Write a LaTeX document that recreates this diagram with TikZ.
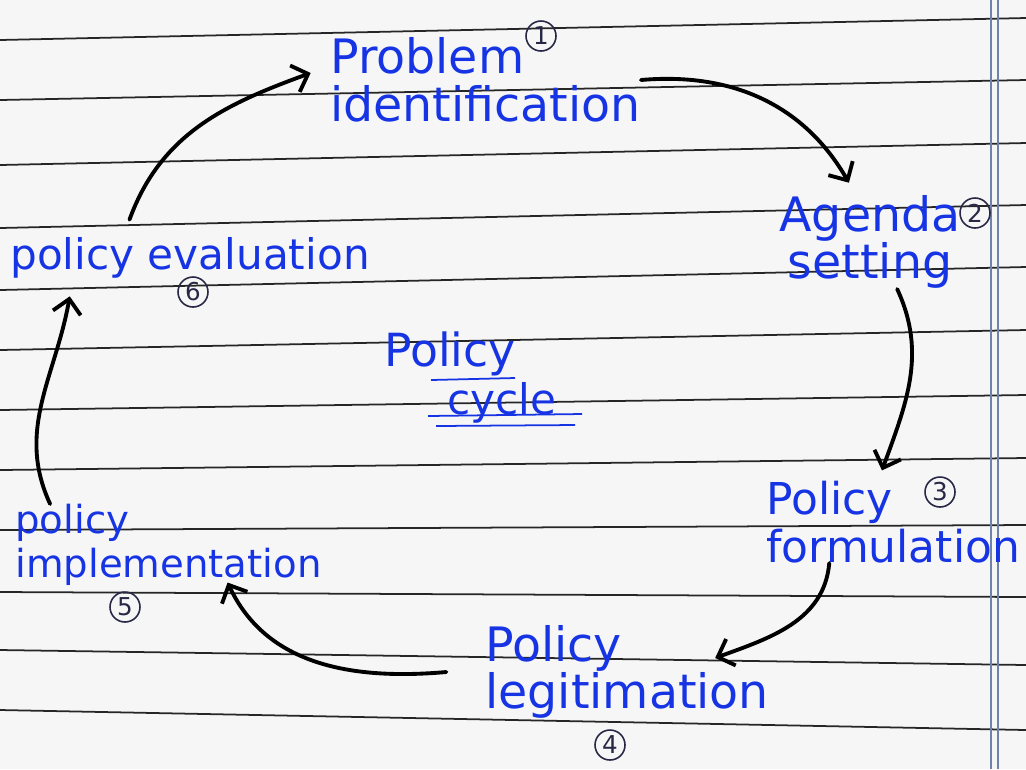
\documentclass[tikz,border=0pt]{standalone}
\usepackage{fontspec}
\setsansfont{DejaVu Sans}
\usetikzlibrary{arrows.meta}
\definecolor{ink}{RGB}{22,52,228}
\definecolor{pencil}{RGB}{40,40,70}
\definecolor{paper}{RGB}{246,246,246}
\definecolor{margin}{RGB}{110,130,170}

\begin{document}
\begin{tikzpicture}[x=0.02cm,y=-0.02cm]
				\tikzstyle{every node}+=[inner sep=0pt]
				\tikzstyle{stage}=[text=ink,font=\sffamily\fontsize{27}{27}\selectfont,align=left]
				\tikzstyle{num}=[draw=pencil,text=pencil,circle,line width=0.9pt,minimum size=0.6cm,font=\sffamily\fontsize{14}{14}\selectfont]
				\tikzstyle{rule}=[black!85,line width=1pt]
				\tikzstyle{flow}=[black,line width=2.2pt,line cap=round,-{Straight Barb[length=8pt,width=16pt,line width=2.2pt]}]
				\useasboundingbox (0,0) rectangle (1026,769);
				\fill [paper] (0,0) rectangle (1026,769);
				% ruled lines of the page
				\foreach \l/\r in {40/18,100/80,165/143,228/205,290/267,350/330,410/395,470/458,530/525,592/597,650/665,710/730}
					\draw [rule] (0,\l) -- (1026,\r);
				\draw [margin,line width=0.8pt] (991,0) -- (991,769);
				\draw [margin,line width=0.8pt] (998,0) -- (998,769);
				% stages
				\node [stage,anchor=west] (prob) at (330,80) {Problem\\identification};
				\node [stage,align=center] (agenda) at (870,242) {Agenda\\setting};
				\node [stage,anchor=west,font=\sffamily\fontsize{25}{27}\selectfont] (form) at (766,522) {Policy\\formulation};
				\node [stage,anchor=west] (legit) at (485,672) {Policy\\legitimation};
				\node [stage,anchor=west,font=\sffamily\fontsize{22}{25}\selectfont] (impl) at (15,545) {policy\\implementation};
				\node [stage,anchor=west,font=\sffamily\fontsize{24}{24}\selectfont] (eval) at (10,258) {policy evaluation};
				% numbers
				\node [num] (n1) at (541,36) {1};
				\node [num] (n2) at (975,213) {2};
				\node [num] (n3) at (940,492) {3};
				\node [num] (n4) at (610,745) {4};
				\node [num] (n5) at (125,607) {5};
				\node [num] (n6) at (193,292) {6};
				% centre
				\node [text=ink,font=\sffamily\fontsize{26}{26}\selectfont] (pol) at (450,354) {Policy};
				\node [text=ink,font=\sffamily\fontsize{24}{24}\selectfont] (cyc) at (502,403) {cycle};
				\draw [ink,line width=1pt] (431,380) -- (515,378);
				\draw [ink,line width=1pt] (428,416) -- (582,414);
				\draw [ink,line width=1pt] (436,426) -- (575,425);
				% arrows
				\draw [flow] (prob.east) to[out=5,in=120] ([xshift=-12pt,yshift=7pt]agenda.north);
				\draw [flow] (agenda.-60) to[out=-65,in=70] ([xshift=66pt,yshift=6pt]form.north west);
				\draw [flow] ([xshift=36pt]form.south west) to[out=-95,in=20] ([xshift=131pt,yshift=8pt]legit.west);
				\draw [flow] ([xshift=-22pt]legit.west) to[out=185,in=-65] ([xshift=121pt,yshift=2pt]impl.south west);
				\draw [flow] ([xshift=20pt]impl.north west) to[out=115,in=-100] ([xshift=34pt,yshift=-10pt]eval.south west);
				\draw [flow] ([xshift=68pt,yshift=10pt]eval.north west) to[out=70,in=200] ([xshift=-11pt,yshift=4pt]prob.west);
\end{tikzpicture}
\end{document}
